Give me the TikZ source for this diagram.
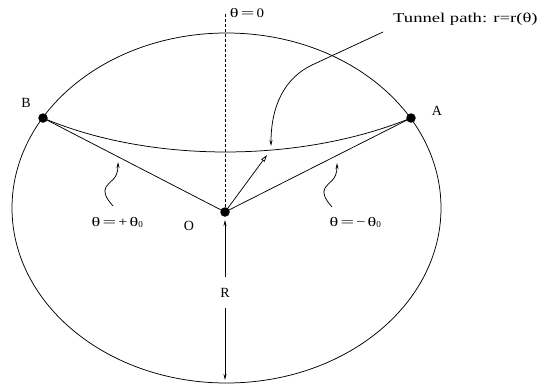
\documentclass[tikz,border=0pt]{standalone}
\usepackage{fontspec}
\setmainfont{Liberation Serif}
\usetikzlibrary{arrows.meta}
\newcommand{\sx}[2]{\scalebox{#1}[1]{#2}}
\newcommand{\thw}{\sx{1.4}{θ}}
\newcommand{\eqw}{\sx{1.85}{=}}
\begin{document}
\begin{tikzpicture}[x=1pt,y=-1pt,
  lw/.style={line width=0.75pt},
  dotnode/.style={circle,fill=black,inner sep=0pt,minimum size=9.5pt},
  arr/.style={lw,-{Stealth[length=6pt,width=3pt]}},
  openarr/.style={lw,-{Triangle[open,length=7pt,width=4pt]}},
  lbl/.style={font=\fontsize{14}{16}\selectfont,inner sep=0pt},
  thlbl/.style={font=\fontsize{13}{15}\selectfont,inner sep=0pt},
  biglbl/.style={font=\fontsize{13.5}{15}\selectfont,inner sep=0pt},
]
\useasboundingbox (0,0) rectangle (538,386);
% earth
\draw[lw] (226.5,208) ellipse [x radius=214.5, y radius=175];
% points
\node[dotnode] (O) at (225,212) {};
\node[dotnode] (B) at (43,118) {};
\node[dotnode] (A) at (411,118) {};
\coordinate (top) at (225,14);
\coordinate (bot) at (225,380);
\coordinate (tipO) at (267,155);
% dashed axis
\draw[lw,dash pattern=on 3pt off 2pt] (O.center) -- (top);
% radii to A and B
\draw[lw] (O.center) -- (B.center);
\draw[lw] (O.center) -- (A.center);
% tunnel path
\draw[lw] (B.center) .. controls (150,163.3) and (300,163.3) .. (A.center);
% arrow O to tunnel
\draw[openarr] (O.center) -- (tipO);
% labels
\node[lbl,anchor=base] (Blbl) at (26,107.5) {B};
\node[lbl,anchor=base] (Albl) at (437,115.5) {A};
\node[lbl,anchor=base] (Olbl) at (189,230.5) {O};
\node[thlbl,anchor=base] (th0) at (247,17.5) {\thw\,\eqw\,\sx{1.15}{0}};
\node[thlbl,anchor=base] (thp) at (117.5,226) {\thw\,\eqw\,\sx{1.25}{+}\,\thw\textsubscript{0}};
\node[thlbl,anchor=base] (thm) at (355.5,226) {\thw\,\eqw\,\sx{1.25}{−}\,\thw\textsubscript{0}};
\node[biglbl,anchor=base west] (tun) at (393,22) {\sx{1.38}{Tunnel path: r=r(θ)}};
% R with double arrow
\node[lbl,minimum height=31pt] (R) at (225,292.5) {R};
\draw[arr,shorten >=3pt] (R) -- (O);
\draw[arr] (R) -- (bot);
% squiggly pointers
\coordinate (sqL) at (113,206);
\coordinate (sqLt) at (118,162);
\coordinate (sqR) at (332,207);
\coordinate (sqRt) at (337,163);
\draw[arr] (sqL) .. controls (106,198) and (103,192) .. (106,187)
  .. controls (109,181) and (118,180) .. (sqLt);
\draw[arr] (sqR) .. controls (325,199) and (322,193) .. (325,188)
  .. controls (328,182) and (337,181) .. (sqRt);
% tunnel pointer
\coordinate (tunS) at (383,32);
\coordinate (tunT) at (271,146);
\draw[arr] (tunS) -- (312,65) .. controls (285,78) and (271,105) .. (tunT);
\end{tikzpicture}
\end{document}
